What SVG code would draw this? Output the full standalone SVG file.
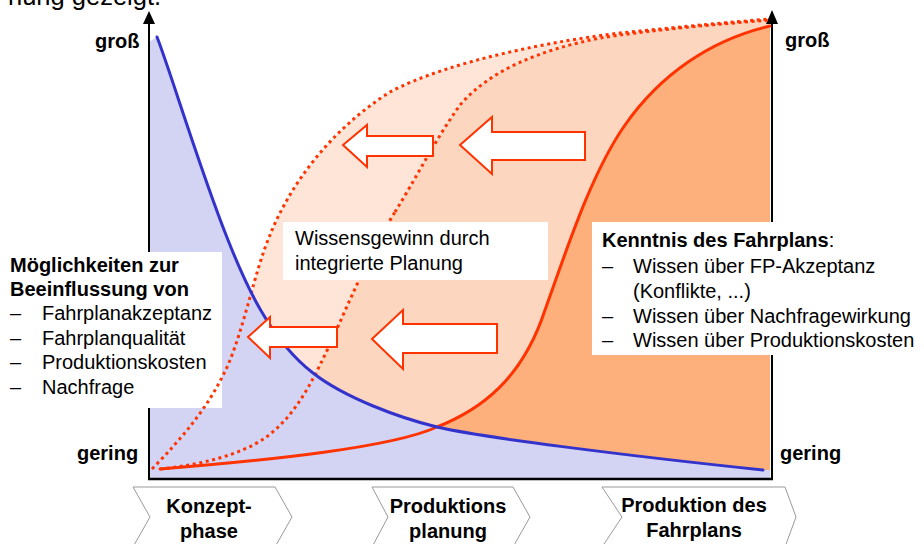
<svg xmlns="http://www.w3.org/2000/svg" width="924" height="544" viewBox="0 0 924 544">
  <defs>
    <style>
      text { font-family: "Liberation Sans", Arial, sans-serif; fill: #000; }
      .b { font-weight: bold; }
      .t20 { font-size: 20px; }
      .box { fill: #fff; stroke: none; }
      .dot { fill: none; stroke: #FF3300; stroke-width: 3; stroke-dasharray: 3 3.6; }
      .solid { fill: none; stroke: #FF3300; stroke-width: 3; stroke-linecap: round; }
      .blue { fill: none; stroke: #3333CC; stroke-width: 3; stroke-linecap: round; }
      .barrow { fill: #fff; stroke: #FF3300; stroke-width: 2; stroke-linejoin: miter; }
      .chev { fill: #fff; stroke: #999; stroke-width: 1; }
      .axis { stroke: #000; fill: none; }
    </style>
  </defs>

  <rect width="924" height="544" fill="#fff"/>

  <!-- caption line, clipped at the top edge -->
  <text x="8" y="5" font-size="25.5">nung gezeigt.</text>

  <!-- area fills -->
  <g id="areas">
    <path fill="#FEE5D8" d="M152,469 C185,435 210,405 228,365 C245,325 255,270 270,235 C290,185 330,130 390,92 C450,60 560,40 620,33 C680,27 730,22 770,19 L770,479 L152,479 Z"/>
    <path fill="#FDD6C0" d="M160,469 C200,465 240,455 265,438 C290,420 305,395 320,365 C340,325 365,260 395,212 C415,180 435,140 460,105 C490,70 540,50 600,38 C650,30 720,24 770,20 L770,479 L160,479 Z"/>
    <path fill="#FDB07C" d="M160,469 C270,460 390,448 437,427 C480,410 522,380 545,310 C565,255 590,175 625,125 C660,75 710,40 770,26 L770,479 L160,479 Z"/>
    <path fill="#D3D3F4" d="M149,479 L149,42 L157,37 C170,70 200,170 228,240 C245,283 270,340 313,373 C345,398 400,418 437,427 C480,437 620,455 763,470 L770,470 L770,479 Z"/>
  </g>

  <!-- axes -->
  <g id="axes">
    <line class="axis" x1="149" y1="480" x2="149" y2="22" stroke-width="2"/>
    <polygon points="149,11 143,24 155,24" fill="#000"/>
    <line class="axis" x1="772" y1="480" x2="772" y2="22" stroke-width="2"/>
    <polygon points="772,10 766,24 778,24" fill="#000"/>
    <line class="axis" x1="148" y1="479" x2="773" y2="479" stroke-width="2.5"/>
  </g>

  <!-- axis labels -->
  <g id="axis-labels" class="b t20">
    <text x="95" y="48">groß</text>
    <text x="785" y="47">groß</text>
    <text x="77" y="460">gering</text>
    <text x="780" y="460">gering</text>
  </g>

  <!-- text panel, left -->
  <g id="box-beeinflussung">
    <rect class="box" x="0" y="252" width="222" height="156"/>
    <text class="b t20" x="10" y="272">Möglichkeiten zur</text>
    <text class="b t20" x="10" y="296">Beeinflussung von</text>
    <g class="t20">
      <text x="10" y="320">–</text><text x="42" y="320">Fahrplanakzeptanz</text>
      <text x="10" y="345">–</text><text x="42" y="345">Fahrplanqualität</text>
      <text x="10" y="369">–</text><text x="42" y="369">Produktionskosten</text>
      <text x="10" y="394">–</text><text x="42" y="394">Nachfrage</text>
    </g>
  </g>

  <!-- curves -->
  <g id="curves">
    <path class="dot" d="M152,469 C185,435 210,405 228,365 C245,325 255,270 270,235 C290,185 330,130 390,92 C450,60 560,40 620,33 C680,27 730,22 770,19"/>
    <path class="dot" d="M160,469 C200,465 240,455 265,438 C290,420 305,395 320,365 C340,325 365,260 395,212"/>
    <path class="dot" d="M395,212 C415,180 435,140 460,105 C490,70 540,50 600,38 C650,30 720,24 770,20"/>
    <path class="solid" d="M160,469 C270,460 390,448 437,427 C480,410 522,380 545,310 C565,255 590,175 625,125 C660,75 710,40 770,26"/>
    <path class="blue" d="M157,37 C170,70 200,170 228,240 C245,283 270,340 313,373 C345,398 400,418 437,427 C480,437 620,455 763,470"/>
  </g>

  <!-- text panel over the inner dotted curve -->
  <g id="box-wissensgewinn">
    <rect class="box" x="283" y="222" width="265" height="58"/>
    <text class="t20" x="295" y="245">Wissensgewinn durch</text>
    <text class="t20" x="295" y="270">integrierte Planung</text>
  </g>

  <g id="box-kenntnis">
    <rect class="box" x="592" y="222" width="332" height="133"/>
    <text class="t20" x="602" y="247"><tspan class="b">Kenntnis des Fahrplans</tspan>:</text>
    <text class="t20" x="602" y="273">–</text><text class="t20" x="633" y="273">Wissen über FP-Akzeptanz</text>
    <text class="t20" x="633" y="298">(Konflikte, ...)</text>
    <text class="t20" x="602" y="323">–</text><text class="t20" x="633" y="323">Wissen über Nachfragewirkung</text>
    <text class="t20" x="602" y="347">–</text><text class="t20" x="633" y="347">Wissen über Produktionskosten</text>
  </g>

  <!-- shift arrows -->
  <g id="arrow-top-left">
    <polygon class="barrow" points="343,145 367,125 367,136 433,136 433,156 367,156 367,167"/>
  </g>
  <g id="arrow-top-right">
    <polygon class="barrow" points="460,145 492,117 492,132 585,132 585,160 492,160 492,174"/>
  </g>
  <g id="arrow-bottom-left">
    <polygon class="barrow" points="248,337 270,317 270,327 337,327 337,347 270,347 270,358"/>
  </g>
  <g id="arrow-bottom-right">
    <polygon class="barrow" points="372,339 403,310 403,324 497,324 497,353 403,353 403,369"/>
  </g>

  <!-- phases -->
  <g id="phase-konzept">
    <polygon class="chev" points="133,487 275,487 292,517 275,547 133,547 150,517"/>
    <text class="b t20" x="209" y="513" text-anchor="middle">Konzept-</text>
    <text class="b t20" x="209" y="538" text-anchor="middle">phase</text>
  </g>
  <g id="phase-produktionsplanung">
    <polygon class="chev" points="372,487 513,487 530,517 513,547 372,547 388,517"/>
    <text class="b t20" x="448" y="513" text-anchor="middle">Produktions</text>
    <text class="b t20" x="448" y="538" text-anchor="middle">planung</text>
  </g>
  <g id="phase-produktion">
    <polygon class="chev" points="602,487 785,487 796,517 785,547 602,547 622,517"/>
    <text class="b t20" x="694" y="512" text-anchor="middle">Produktion des</text>
    <text class="b t20" x="694" y="537" text-anchor="middle">Fahrplans</text>
  </g>
</svg>
